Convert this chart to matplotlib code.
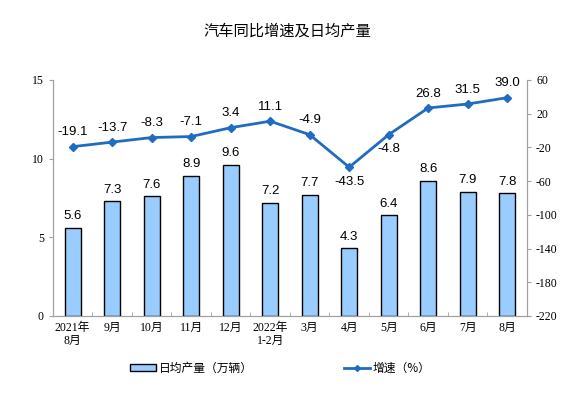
import matplotlib
matplotlib.use("Agg")
import matplotlib.pyplot as plt
from matplotlib.patches import Patch
from matplotlib.lines import Line2D

plt.rcParams["axes.unicode_minus"] = False

categories = ["2021年\n8月", "9月", "10月", "11月", "12月", "2022年\n1-2月", "3月", "4月", "5月", "6月", "7月", "8月"]
daily_output = [5.6, 7.3, 7.6, 8.9, 9.6, 7.2, 7.7, 4.3, 6.4, 8.6, 7.9, 7.8]
growth = [-19.1, -13.7, -8.3, -7.1, 3.4, 11.1, -4.9, -43.5, -4.8, 26.8, 31.5, 39.0]
growth_labels = ["-19.1", "-13.7", "-8.3", "-7.1", "3.4", "11.1", "-4.9", "-43.5", "-4.8", "26.8", "31.5", "39.0"]
below = [False, False, False, False, False, False, False, True, True, False, False, False]

cjk = ["Liberation Serif", "Noto Sans CJK SC"]
sans = ["Liberation Sans", "Noto Sans CJK SC"]

fig = plt.figure(figsize=(5.75, 3.94), dpi=100)
ax = fig.add_axes([0.092, 0.198, 0.8245, 0.599])
ax2 = ax.twinx()

x = list(range(len(categories)))
bar_color = "#99ccff"
line_color = "#1f6cc0"
spine_color = "#a0a0a0"

ax.bar(x, daily_output, width=0.4, color=bar_color, edgecolor="black", linewidth=1.0, zorder=2)
for xi, v in zip(x, daily_output):
    ax.annotate(f"{v:.1f}", (xi, v), xytext=(0, 4), textcoords="offset points",
                ha="center", va="bottom", fontsize=9.5, family=sans)

ax.set_xlim(-0.5, len(categories) - 0.5)
ax.set_ylim(0, 15)
ax.set_yticks([0, 5, 10, 15])
ax.set_xticks(x)
ax.set_xticklabels(categories, fontsize=8.5, family=cjk, linespacing=1.15)
ax.set_xticks([i + 0.5 for i in x[:-1]], minor=True)
ax.tick_params(axis="x", which="major", length=0, pad=4)
ax.tick_params(axis="x", which="minor", length=3, direction="in", color=spine_color)
ax.tick_params(axis="y", length=3, color=spine_color, labelsize=8.5)
for lab in ax.get_yticklabels():
    lab.set_family("Liberation Serif")

ax2.plot(x, growth, color=line_color, linewidth=2, marker="D", markersize=4, zorder=3)
for xi, v, lab, b in zip(x, growth, growth_labels, below):
    ax2.annotate(lab, (xi, v), xytext=(0, -6 if b else 6), textcoords="offset points",
                 ha="center", va="top" if b else "bottom", fontsize=9.5, family=sans)
ax2.set_ylim(-220, 60)
ax2.set_yticks(list(range(-220, 61, 40)))
ax2.tick_params(axis="y", length=3, color=spine_color, labelsize=8.5)
for lab in ax2.get_yticklabels():
    lab.set_family("Liberation Serif")

for a in (ax, ax2):
    a.spines["top"].set_visible(False)
    for s in ("left", "right", "bottom"):
        a.spines[s].set_color(spine_color)
ax.set_zorder(ax2.get_zorder() - 1)
ax.patch.set_visible(False)

fig.text(0.5, 0.922, "汽车同比增速及日均产量", ha="center", va="center", fontsize=11,
         family="Noto Sans CJK SC")

handles = [Patch(facecolor=bar_color, edgecolor="black", linewidth=1.0),
           Line2D([0], [0], color=line_color, linewidth=2, marker="D", markersize=3)]
fig.legend(handles[:1], ["日均产量（万辆）"], loc="center", bbox_to_anchor=(0.333, 0.065),
           frameon=False, prop={"family": "Noto Sans CJK SC", "size": 8.5},
           handlelength=2.2, handleheight=0.5, handletextpad=0.2)
fig.legend(handles[1:], ["增速（%）"], loc="center", bbox_to_anchor=(0.674, 0.065),
           frameon=False, prop={"family": "Noto Sans CJK SC", "size": 8.5},
           handlelength=2.2, handletextpad=0.2)

fig.savefig("out.png", dpi=100)
